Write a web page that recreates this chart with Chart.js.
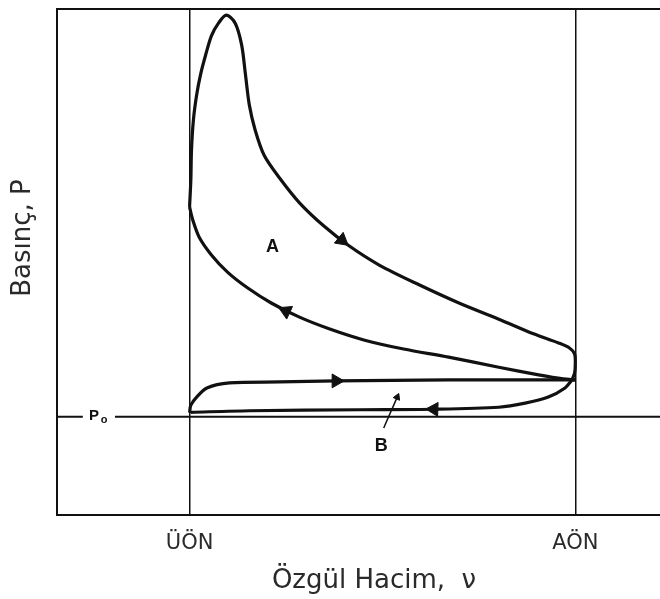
<!DOCTYPE html>
<html>
<head>
<meta charset="utf-8">
<script src="https://cdn.jsdelivr.net/npm/chart.js@4/dist/chart.umd.min.js"></script>
<style>
  html, body { margin: 0; padding: 0; overflow: hidden; background: #fff; }
  canvas { display: block; }
</style>
</head>
<body>
<canvas id="pv" width="700" height="599"></canvas>
<script>
// P-v diyagramı: hacim (v) ve basınç (P) keyfi birim
const xMin = -0.62, xMax = 98.0;
const pMin = 0, pMax = 100;

const tickValues = [20, 80];
const tickLabels = ["ÜÖN", "AÖN"];

const P0 = 19.4;

// yanma + genişleme (A üst eğrisi)
const expansionV = [20.0, 20.2, 20.3, 20.6, 21.1, 21.7, 22.5, 23.4, 24.5, 25.7, 27.1, 28.1, 28.7, 29.3, 30.2, 31.6, 34.0, 37.1, 40.9, 44.8, 49.5, 55.7, 61.9, 68.1, 73.5, 77.4, 79.1, 79.9, 80.0, 79.9, 79.5];
const expansionP = [60.9, 66.2, 72.1, 78.1, 83.0, 87.0, 90.9, 94.7, 97.2, 98.8, 97.2, 92.9, 87.0, 81.0, 76.1, 71.1, 66.6, 61.7, 57.1, 53.2, 49.4, 45.5, 41.9, 38.7, 35.8, 34.0, 33.0, 31.8, 29.8, 28.1, 26.7];

// egzoz (B alt çizgisi, sola)
const exhaustV = [79.5, 78.4, 75.8, 72.2, 68.1, 58.0, 46.4, 29.3, 20.2];
const exhaustP = [26.7, 25.1, 23.3, 22.1, 21.3, 20.9, 20.8, 20.6, 20.3];

// emme (B üst çizgisi, sağa)
const intakeV = [20.0, 20.2, 21.1, 22.7, 26.2, 34.0, 42.8, 60.3, 80.0];
const intakeP = [20.2, 21.7, 23.3, 25.1, 26.1, 26.3, 26.5, 26.7, 26.7];

// sıkıştırma (A alt eğrisi, sola)
const compressionV = [80.0, 78.1, 74.3, 68.1, 60.3, 53.3, 47.1, 41.7, 37.1, 32.7, 29.0, 25.9, 23.4, 21.5, 20.5, 20.0];
const compressionP = [26.7, 26.9, 27.7, 29.2, 31.2, 32.8, 34.6, 36.8, 39.1, 41.9, 44.9, 48.0, 51.4, 54.9, 58.3, 60.9];

// yön okları
const arrowV = [43.7, 35.0, 42.8, 58.0, 52.3];
const arrowP = [54.3, 40.3, 26.5, 20.9, 23.3];
const arrowDir = [129, 295, 90, 272, 23];

// B işaret çizgisi
const leaderV = [50.2, 52.3];
const leaderP = [17.2, 23.3];

const regionLabels = ["A", "B"];
const regionV = [32.9, 49.8];
const regionP = [53.0, 13.6];

const ink = "#111";
const fontFam = '"DejaVu Sans", sans-serif';

const pts = (vs, ps) => vs.map((v, i) => ({ x: v, y: ps[i] }));

const curve = (vs, ps) => ({
  data: pts(vs, ps),
  showLine: true,
  borderColor: ink,
  borderWidth: 3.2,
  pointRadius: 0,
  tension: 0.3,
});

const annotate = {
  id: "annotate",
  afterDatasetsDraw(chart) {
    const { ctx, chartArea, scales: { x, y } } = chart;
    ctx.save();
    ctx.fillStyle = ink;
    ctx.textAlign = "center";
    ctx.textBaseline = "middle";

    ctx.font = 'bold 18px "Liberation Sans", Arial, sans-serif';
    regionLabels.forEach((t, i) => {
      ctx.fillText(t, x.getPixelForValue(regionV[i]), y.getPixelForValue(regionP[i]));
    });

    // P0 etiketi
    const px = x.getPixelForValue(5.3);
    const py = y.getPixelForValue(P0);
    ctx.font = 'bold 15px "Liberation Sans", Arial, sans-serif';
    ctx.fillText("P", px - 1, py - 1);
    ctx.font = 'bold 11px "Liberation Sans", Arial, sans-serif';
    ctx.fillText("o", px + 9, py + 3);

    // dikey eksen başlığı
    ctx.font = "26px " + fontFam;
    ctx.fillStyle = "#2a2a2a";
    ctx.translate(chartArea.left - 34, (chartArea.top + chartArea.bottom) / 2 - 24);
    ctx.rotate(-Math.PI / 2);
    ctx.fillText("Basınç, P", 0, 0);
    ctx.restore();
  },
};

new Chart(document.getElementById("pv"), {
  type: "scatter",
  data: {
    datasets: [
      {
        data: [{ x: xMin, y: P0 }, { x: 3.4, y: P0 }, { x: 6, y: null }, { x: 8.4, y: P0 }, { x: xMax, y: P0 }],
        showLine: true,
        borderColor: ink,
        borderWidth: 2,
        pointRadius: 0,
        spanGaps: false,
      },
      curve(expansionV, expansionP),
      curve(exhaustV, exhaustP),
      curve(intakeV, intakeP),
      curve(compressionV, compressionP),
      {
        data: pts(leaderV, leaderP),
        showLine: true,
        borderColor: ink,
        borderWidth: 1.5,
        pointRadius: 0,
      },
      {
        data: pts(arrowV, arrowP),
        pointStyle: "triangle",
        rotation: arrowDir,
        pointRadius: [8, 8, 8, 8, 4],
        backgroundColor: ink,
        borderColor: ink,
        borderWidth: 1,
      },
    ],
  },
  options: {
    responsive: false,
    devicePixelRatio: 1,
    animation: false,
    layout: { padding: 0 },
    plugins: { legend: { display: false }, tooltip: { enabled: false } },
    scales: {
      x: {
        type: "linear",
        position: "bottom",
        min: xMin,
        max: xMax,
        afterBuildTicks: (axis) => { axis.ticks = tickValues.map((v) => ({ value: v })); },
        afterFit: (axis) => { axis.height = 84; },
        ticks: {
          callback: (value, index) => tickLabels[index],
          autoSkip: false,
          maxRotation: 0,
          padding: 16,
          color: "#2a2a2a",
          font: { family: fontFam, size: 21 },
        },
        grid: { color: ink, lineWidth: 1.5, drawTicks: false },
        border: { display: true, color: ink, width: 2 },
        title: {
          display: true,
          text: "Özgül Hacim,  ν",
          color: "#2a2a2a",
          font: { family: fontFam, size: 26 },
          padding: { top: 0, bottom: 2 },
        },
      },
      xTop: {
        type: "linear",
        position: "top",
        min: xMin,
        max: xMax,
        afterFit: (axis) => { axis.height = 9; },
        ticks: { display: false },
        grid: { display: false },
        border: { display: true, color: ink, width: 2 },
      },
      y: {
        type: "linear",
        min: pMin,
        max: pMax,
        afterFit: (axis) => { axis.width = 57; },
        ticks: { display: false },
        grid: { display: false },
        border: { display: true, color: ink, width: 2 },
      },
    },
  },
  plugins: [annotate],
});
</script>
</body>
</html>
